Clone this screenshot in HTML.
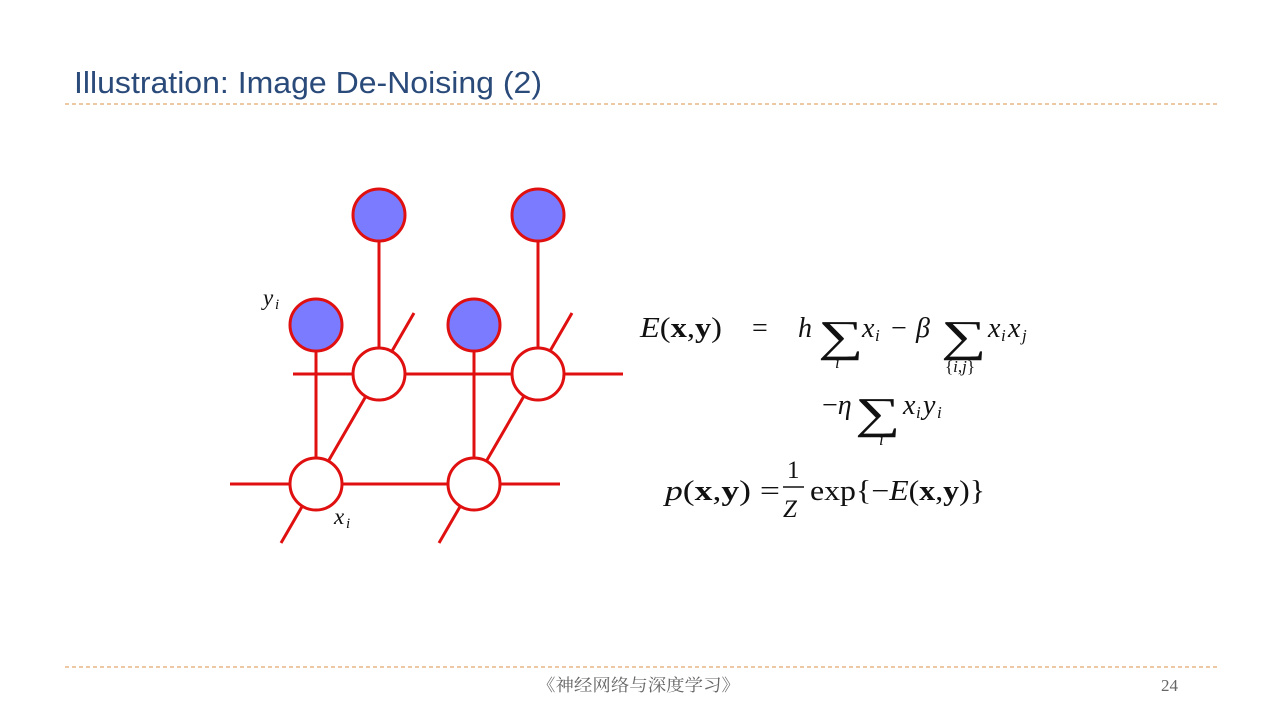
<!DOCTYPE html>
<html><head><meta charset="utf-8"><style>
html,body{margin:0;padding:0;background:#fff;}
body{width:1280px;height:720px;overflow:hidden;position:relative;}
</style></head><body>
<svg width="1280" height="720" viewBox="0 0 1280 720" xmlns="http://www.w3.org/2000/svg" style="position:absolute;left:0;top:0">
<text x="74" y="93" font-family="Liberation Sans, sans-serif" font-size="31" fill="#2a4a7a" textLength="468" lengthAdjust="spacingAndGlyphs">Illustration: Image De-Noising (2)</text>
<line x1="65" y1="104" x2="1217" y2="104" stroke="#d9904a" stroke-width="1" stroke-dasharray="4,3"/>
<line x1="65" y1="667" x2="1217" y2="667" stroke="#d9904a" stroke-width="1" stroke-dasharray="4,3"/>
<text x="537" y="691" font-family="Liberation Serif, Noto Serif CJK SC, serif" font-size="17" fill="#666" textLength="203" lengthAdjust="spacingAndGlyphs">《神经网络与深度学习》</text>
<text x="1161" y="691" font-family="Liberation Serif, serif" font-size="17" fill="#666">24</text>

<g stroke="#e01010" stroke-width="3" fill="none">
<line x1="293" y1="374" x2="623" y2="374"/>
<line x1="230" y1="484" x2="560" y2="484"/>
<line x1="281" y1="543" x2="414" y2="313"/>
<line x1="439" y1="543" x2="572" y2="313"/>
<line x1="379" y1="215" x2="379" y2="374"/>
<line x1="538" y1="215" x2="538" y2="374"/>
<line x1="316" y1="325" x2="316" y2="484"/>
<line x1="474" y1="325" x2="474" y2="484"/>
</g>
<g stroke="#e01010" stroke-width="3">
<circle cx="379" cy="215" r="26" fill="#7b7bff"/>
<circle cx="538" cy="215" r="26" fill="#7b7bff"/>
<circle cx="316" cy="325" r="26" fill="#7b7bff"/>
<circle cx="474" cy="325" r="26" fill="#7b7bff"/>
<circle cx="379" cy="374" r="26" fill="#fff"/>
<circle cx="538" cy="374" r="26" fill="#fff"/>
<circle cx="316" cy="484" r="26" fill="#fff"/>
<circle cx="474" cy="484" r="26" fill="#fff"/>
</g>
<g font-family="Liberation Serif, serif" fill="#111" font-style="italic">
<text x="263" y="305" font-size="23">y</text><text x="275" y="309" font-size="15">i</text>
<text x="334" y="524" font-size="23">x</text><text x="346" y="528" font-size="15">i</text>
</g>

<g font-family="Liberation Serif, serif" fill="#111" font-size="28">
<text x="640" y="337" textLength="82" lengthAdjust="spacingAndGlyphs"><tspan font-style="italic">E</tspan>(<tspan font-weight="bold">x</tspan>,<tspan font-weight="bold">y</tspan>)</text>
<text x="752" y="337">=</text>
<text x="798" y="337" font-style="italic">h</text>
<text transform="translate(818,351) scale(1.45,1)" font-size="44">∑</text>
<text x="862" y="337" font-style="italic">x</text><text x="875" y="341" font-size="17" font-style="italic">i</text>
<text x="891" y="337">−</text>
<text x="916" y="337" font-style="italic">β</text>
<text transform="translate(941,351) scale(1.45,1)" font-size="44">∑</text>
<text x="988" y="337" font-style="italic">x</text><text x="1001" y="341" font-size="17" font-style="italic">i</text>
<text x="1008" y="337" font-style="italic">x</text><text x="1022" y="341" font-size="17" font-style="italic">j</text>
<text x="835" y="368" font-size="17" font-style="italic">i</text>
<text x="945" y="372" font-size="17">{<tspan font-style="italic">i</tspan>,<tspan font-style="italic">j</tspan>}</text>

<text x="822" y="414">−<tspan font-style="italic">η</tspan></text>
<text transform="translate(855,428) scale(1.45,1)" font-size="44">∑</text>
<text x="903" y="414" font-style="italic">x</text><text x="916" y="418" font-size="17" font-style="italic">i</text>
<text x="923" y="414" font-style="italic">y</text><text x="937" y="418" font-size="17" font-style="italic">i</text>
<text x="879" y="445" font-size="17" font-style="italic">i</text>

<text x="665" y="500" textLength="115" lengthAdjust="spacingAndGlyphs"><tspan font-style="italic">p</tspan>(<tspan font-weight="bold">x</tspan>,<tspan font-weight="bold">y</tspan>) =</text>
<text x="787" y="478" font-size="25">1</text>
<line x1="783" y1="487" x2="804" y2="487" stroke="#111" stroke-width="1.5"/>
<text x="783" y="517" font-style="italic" font-size="25">Z</text>
<text x="810" y="500" textLength="175" lengthAdjust="spacingAndGlyphs">exp{−<tspan font-style="italic">E</tspan>(<tspan font-weight="bold">x</tspan>,<tspan font-weight="bold">y</tspan>)}</text>
</g>
</svg>
</body></html>
